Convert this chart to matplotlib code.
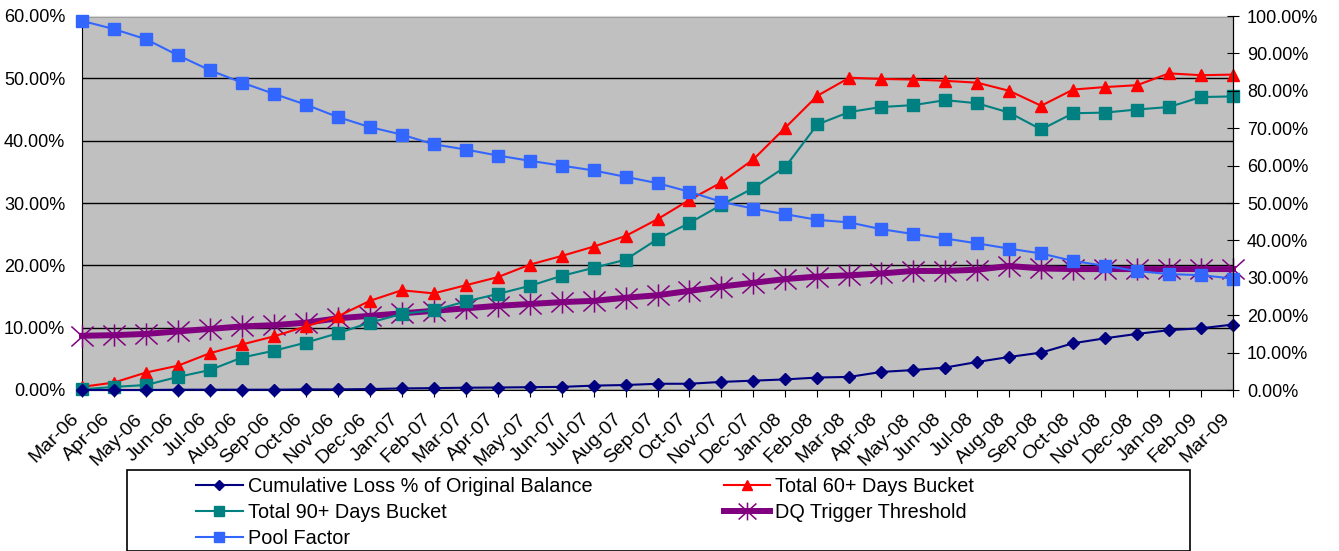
import matplotlib
matplotlib.use('Agg')
import matplotlib.pyplot as plt
import matplotlib.transforms as mtransforms
from matplotlib.patches import Rectangle
from matplotlib.path import Path
from matplotlib.ticker import FuncFormatter, MultipleLocator

plt.rcParams['font.family'] = ['Liberation Sans', 'DejaVu Sans']

months = ['Mar-06', 'Apr-06', 'May-06', 'Jun-06', 'Jul-06', 'Aug-06', 'Sep-06', 'Oct-06',
          'Nov-06', 'Dec-06', 'Jan-07', 'Feb-07', 'Mar-07', 'Apr-07', 'May-07', 'Jun-07',
          'Jul-07', 'Aug-07', 'Sep-07', 'Oct-07', 'Nov-07', 'Dec-07', 'Jan-08', 'Feb-08',
          'Mar-08', 'Apr-08', 'May-08', 'Jun-08', 'Jul-08', 'Aug-08', 'Sep-08', 'Oct-08',
          'Nov-08', 'Dec-08', 'Jan-09', 'Feb-09', 'Mar-09']

# left axis (%)
cum_loss = [0.0, 0.0, 0.0, 0.05, 0.05, 0.05, 0.05, 0.1, 0.1, 0.15, 0.25, 0.3,
            0.37, 0.4, 0.45, 0.5, 0.7, 0.8, 1.0, 1.0, 1.3, 1.5, 1.7, 2.0,
            2.1, 2.9, 3.2, 3.6, 4.5, 5.3, 6.0, 7.5, 8.3, 9.0, 9.6, 9.9, 10.5]
bucket_60 = [0.5, 1.2, 2.8, 3.9, 5.9, 7.3, 8.6, 10.2, 11.8, 14.3, 16.0, 15.5,
             16.8, 18.1, 20.1, 21.5, 23.0, 24.7, 27.4, 30.5, 33.3, 37.0, 42.1, 47.2,
             50.1, 49.9, 49.8, 49.6, 49.3, 48.0, 45.6, 48.2, 48.6, 48.9, 50.8, 50.5, 50.6]
bucket_90 = [0.1, 0.5, 0.8, 2.1, 3.2, 5.2, 6.3, 7.6, 9.1, 10.8, 12.2, 12.8,
             14.2, 15.4, 16.7, 18.3, 19.6, 20.9, 24.2, 26.8, 29.7, 32.4, 35.8, 42.6,
             44.6, 45.4, 45.7, 46.5, 46.0, 44.5, 41.8, 44.4, 44.5, 45.0, 45.4, 47.0, 47.1]
dq_trigger = [8.7, 8.8, 9.0, 9.4, 9.8, 10.2, 10.4, 10.8, 11.5, 11.9, 12.3, 12.7,
              13.1, 13.5, 13.8, 14.1, 14.3, 14.8, 15.2, 15.9, 16.6, 17.2, 17.8, 18.2,
              18.4, 18.7, 19.1, 19.1, 19.3, 19.9, 19.5, 19.4, 19.4, 19.4, 19.4, 19.4, 19.4]
# right axis (%)
pool_factor = [98.7, 96.5, 93.8, 89.5, 85.5, 82.2, 79.2, 76.3, 73.0, 70.3, 68.3, 65.7,
               64.3, 62.7, 61.3, 60.0, 58.7, 57.0, 55.3, 53.0, 50.3, 48.5, 47.0, 45.5,
               44.8, 43.0, 41.7, 40.5, 39.2, 37.8, 36.5, 34.5, 33.2, 31.8, 31.0, 30.7, 29.8]

W, H = 1339, 551
fig = plt.figure(figsize=(W / 100, H / 100), dpi=100)
ax = fig.add_axes([82 / W, 1 - 390 / H, (1233 - 82) / W, (390 - 16) / H])
ax.set_facecolor('#C0C0C0')
x = list(range(len(months)))

fs = 13
pct = FuncFormatter(lambda v, p: f'{v:.2f}%')

# Excel-style star: vertical bar plus an X
star = Path([(0, -1), (0, 1), (-1, -0.9), (1, 0.9), (-1, 0.9), (1, -0.9)],
            [Path.MOVETO, Path.LINETO, Path.MOVETO, Path.LINETO, Path.MOVETO, Path.LINETO])

l_cum, = ax.plot(x, cum_loss, color='#000080', marker='D', ms=6.5, lw=1.5, clip_on=False, zorder=5)
l_60, = ax.plot(x, bucket_60, color='#FF0000', marker='^', ms=8.5, lw=1.5, clip_on=False, zorder=4)
l_90, = ax.plot(x, bucket_90, color='#008080', marker='s', ms=8.5, lw=1.5, clip_on=False, zorder=4)
l_dq, = ax.plot(x, dq_trigger, color='#800080', marker=star, ms=16, mew=1.1, lw=4.3,
                clip_on=False, zorder=3)

ax.set_xlim(0, len(months) - 1)
ax.set_ylim(0, 60)
ax.yaxis.set_major_locator(MultipleLocator(10))
ax.yaxis.set_major_formatter(pct)
ax.yaxis.grid(True, color='black', lw=1)
ax.set_axisbelow(True)
ax.tick_params(axis='y', length=0, pad=12, labelsize=fs)
ax.set_xticks(x)
ax.set_xticklabels(months, rotation=45, ha='right', va='center', rotation_mode='anchor', fontsize=14)
ax.tick_params(axis='x', direction='out', length=5, pad=14)
shift = mtransforms.ScaledTranslation(-6 / 100, 0, fig.dpi_scale_trans)
for lab in ax.get_xticklabels():
    lab.set_transform(lab.get_transform() + shift)
for s in ['left', 'bottom', 'right']:
    ax.spines[s].set_color('black')
ax.spines['top'].set_color('#D8D8D8')

ax2 = ax.twinx()
l_pool, = ax2.plot(x, pool_factor, color='#3366FF', marker='s', ms=8.5, lw=1.5, clip_on=False)
ax2.set_ylim(0, 100)
ax2.yaxis.set_major_locator(MultipleLocator(10))
ax2.yaxis.set_major_formatter(pct)
ax2.tick_params(axis='y', direction='inout', length=8, pad=6, labelsize=fs)
ax2.spines['right'].set_color('black')
ax2.spines['top'].set_visible(False)
ax2.spines['left'].set_visible(False)
ax2.spines['bottom'].set_visible(False)

# legend box
fig.patches.append(Rectangle((127 / W, 0), (1190 - 127) / W, (551 - 470) / H,
                             transform=fig.transFigure, fill=False, edgecolor='black', lw=1.2))
handles = [l_cum, l_90, l_pool, l_60, l_dq]
labels = ['Cumulative Loss % of Original Balance', 'Total 90+ Days Bucket', 'Pool Factor',
          'Total 60+ Days Bucket', 'DQ Trigger Threshold']
fig.legend(handles, labels, loc='upper left', bbox_to_anchor=(196 / W, 1 - 477 / H), ncol=2,
           frameon=False, fontsize=14.3, handlelength=2.36, handletextpad=0.25,
           columnspacing=6.6, labelspacing=0.36, borderaxespad=0, borderpad=0,
           markerscale=0.8)

fig.savefig('out.png', dpi=100)
